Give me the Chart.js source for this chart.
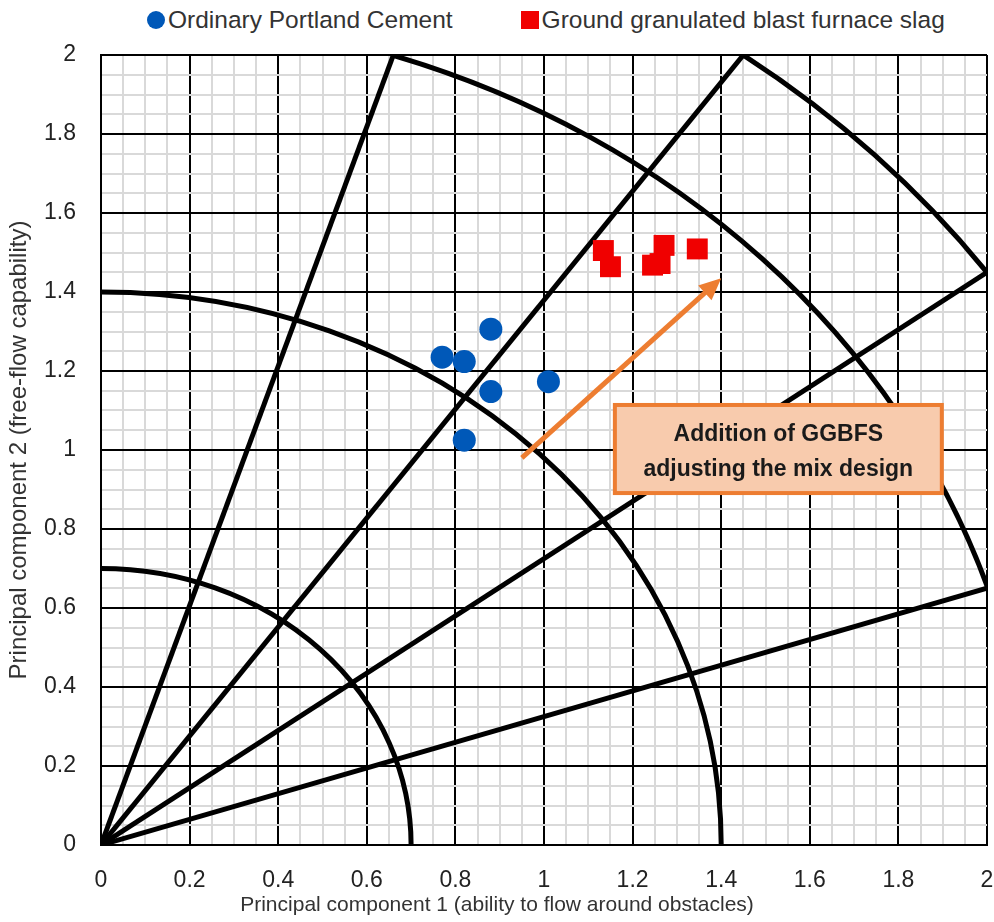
<!DOCTYPE html>
<html>
<head>
<meta charset="utf-8">
<script src="https://cdn.jsdelivr.net/npm/chart.js@4.4.1/dist/chart.umd.min.js"></script>
<style>
  body { margin: 0; background: #fff; font-family: 'Liberation Sans', Arial, sans-serif; overflow: hidden; }
  #legend { position: absolute; left: 147px; top: 5px; height: 30px; display: flex; align-items: center; font-size: 24.5px; color: #333; white-space: nowrap; }
  #legend .item { display: flex; align-items: center; margin-right: 68px; }
  #legend .mark { width: 18px; height: 18px; margin-right: 3px; }
  #wrap { position: absolute; left: 0; top: 40px; width: 994px; height: 882px; }
</style>
</head>
<body>
<div id="legend"></div>
<div id="wrap"><canvas id="pcaChart"></canvas></div>
<script>
const opcX = [0.77, 0.82, 0.88, 0.88, 1.01, 0.82];
const opcY = [1.235, 1.224, 1.306, 1.148, 1.173, 1.025];
const ggbfsX = [1.134, 1.150, 1.245, 1.262, 1.271, 1.346];
const ggbfsY = [1.505, 1.464, 1.468, 1.472, 1.518, 1.509];

// guide rays from the origin
const rayEndX = [0.66, 1.45, 2.0, 2.0];
const rayEndY = [2.0, 2.0, 1.45, 0.65];

// guide arcs around the origin (radius, from/to angle in degrees)
const arcRadius = [0.7, 1.4, 2.105, 2.47];
const arcFrom = [0, 0, 18.0, 35.9];
const arcTo = [90, 90, 71.7, 54.1];

// annotation
const arrowFrom = [0.95, 0.98];
const arrowTo = [1.40, 1.435];
const boxX = [1.16, 1.898];
const boxY = [0.891, 1.114];
const boxText = ['Addition of GGBFS', 'adjusting the mix design'];

const xTitle = 'Principal component 1 (ability to flow around obstacles)';
const yTitle = 'Principal component 2 (free-flow capability)';

const tickStep = 0.05;
const majorStep = 0.2;

function isMajor(v) {
   const r = v / majorStep;
   return Math.abs(r - Math.round(r)) < 1e-6;
}

const toPoints = (xs, ys) => xs.map((x, i) => ({ x: x, y: ys[i] }));

const rays = rayEndX.map((x, i) => ({
   type: 'scatter',
   label: 'ray' + i,
   data: [{ x: 0, y: 0 }, { x: x, y: rayEndY[i] }],
   showLine: true,
   borderColor: '#000',
   borderWidth: 5,
   pointRadius: 0,
   order: 2
}));

const guidePlugin = {
   id: 'guides',
   beforeDatasetsDraw(chart) {
      const { ctx, chartArea, scales: { x, y } } = chart;
      const cx = x.getPixelForValue(0), cy = y.getPixelForValue(0);
      const kx = x.getPixelForValue(1) - cx, ky = cy - y.getPixelForValue(1);
      ctx.save();
      ctx.beginPath();
      ctx.rect(chartArea.left, chartArea.top, chartArea.width, chartArea.height);
      ctx.clip();
      ctx.strokeStyle = '#000';
      ctx.lineWidth = 5;
      arcRadius.forEach((r, i) => {
         ctx.beginPath();
         ctx.ellipse(cx, cy, r * kx, r * ky, 0, -arcTo[i] * Math.PI / 180, -arcFrom[i] * Math.PI / 180, false);
         ctx.stroke();
      });
      ctx.restore();
   },
   afterDatasetsDraw(chart) {
      const { ctx, scales: { x, y } } = chart;
      // arrow
      const x0 = x.getPixelForValue(arrowFrom[0]), y0 = y.getPixelForValue(arrowFrom[1]);
      const x1 = x.getPixelForValue(arrowTo[0]), y1 = y.getPixelForValue(arrowTo[1]);
      const a = Math.atan2(y1 - y0, x1 - x0);
      const headLen = 22, headW = 10;
      ctx.save();
      ctx.strokeStyle = '#ed7d31';
      ctx.fillStyle = '#ed7d31';
      ctx.lineWidth = 5;
      ctx.beginPath();
      ctx.moveTo(x0, y0);
      ctx.lineTo(x1 - Math.cos(a) * headLen * 0.8, y1 - Math.sin(a) * headLen * 0.8);
      ctx.stroke();
      ctx.beginPath();
      ctx.moveTo(x1, y1);
      ctx.lineTo(x1 - Math.cos(a) * headLen + Math.sin(a) * headW, y1 - Math.sin(a) * headLen - Math.cos(a) * headW);
      ctx.lineTo(x1 - Math.cos(a) * headLen - Math.sin(a) * headW, y1 - Math.sin(a) * headLen + Math.cos(a) * headW);
      ctx.closePath();
      ctx.fill();

      // text box
      const bl = x.getPixelForValue(boxX[0]), br = x.getPixelForValue(boxX[1]);
      const bt = y.getPixelForValue(boxY[1]), bb = y.getPixelForValue(boxY[0]);
      ctx.fillStyle = '#f8cbad';
      ctx.fillRect(bl, bt, br - bl, bb - bt);
      ctx.lineWidth = 4;
      ctx.strokeRect(bl, bt, br - bl, bb - bt);
      ctx.fillStyle = '#1a1a1a';
      ctx.font = 'bold 23px "Liberation Sans", Arial, sans-serif';
      ctx.textAlign = 'center';
      ctx.textBaseline = 'middle';
      const mid = (bl + br) / 2, vm = (bt + bb) / 2;
      ctx.fillText(boxText[0], mid, vm - 14);
      ctx.fillText(boxText[1], mid, vm + 21);
      ctx.restore();
   },
   afterDraw(chart) {
      // x axis title is centred on the whole chart, not on the plot area
      const { ctx } = chart;
      ctx.save();
      ctx.fillStyle = '#333';
      ctx.font = '21px "Liberation Sans", Arial, sans-serif';
      ctx.textAlign = 'center';
      ctx.textBaseline = 'middle';
      ctx.fillText(xTitle, chart.width / 2, chart.height - 17);
      ctx.restore();
   }
};

const tickFont = { family: "'Liberation Sans', Arial, sans-serif", size: 23 };

const chart = new Chart(document.getElementById('pcaChart'), {
   type: 'scatter',
   data: {
      datasets: [
         {
            label: 'Ordinary Portland Cement',
            data: toPoints(opcX, opcY),
            pointStyle: 'circle',
            pointRadius: 11.5,
            pointHoverRadius: 11.5,
            backgroundColor: '#0058b8',
            borderWidth: 0,
            order: 0
         },
         {
            label: 'Ground granulated blast furnace slag',
            data: toPoints(ggbfsX, ggbfsY),
            pointStyle: 'rect',
            pointRadius: 14.8,
            pointHoverRadius: 14.8,
            backgroundColor: '#f00000',
            borderWidth: 0,
            order: 1
         },
         ...rays
      ]
   },
   options: {
      responsive: true,
      maintainAspectRatio: false,
      animation: false,
      layout: { autoPadding: false, padding: { left: 0, right: 7, top: 15, bottom: 0 } },
      plugins: {
         legend: { display: false },
         tooltip: { enabled: false }
      },
      scales: {
         x: {
            min: 0, max: 2,
            afterFit(scale) {
               scale.height = 77;
               scale.paddingLeft = 0;
               scale.paddingRight = 0;
            },
            ticks: {
               stepSize: tickStep, autoSkip: false, maxRotation: 0, padding: 22,
               color: '#222', font: tickFont,
               callback: v => isMajor(v) ? String(+v.toFixed(1)) : ''
            },
            grid: {
               drawTicks: false,
               color: c => isMajor(c.tick.value) ? '#000' : '#d9d9d9',
               lineWidth: 2
            },
            border: { color: '#000', width: 2 }
         },
         y: {
            min: 0, max: 2,
            afterFit(scale) {
               scale.width = 101;
               scale.paddingTop = 0;
               scale.paddingBottom = 0;
            },
            ticks: {
               stepSize: tickStep, autoSkip: false, padding: 25,
               color: '#222', font: tickFont,
               callback: v => isMajor(v) ? String(+v.toFixed(1)) : ''
            },
            grid: {
               drawTicks: false,
               color: c => isMajor(c.tick.value) ? '#000' : '#d9d9d9',
               lineWidth: 2
            },
            border: { color: '#000', width: 2 },
            title: {
               display: true,
               text: yTitle,
               color: '#333',
               font: { family: "'Liberation Sans', Arial, sans-serif", size: 24 },
               padding: { top: 5, bottom: 0 }
            }
         }
      }
   },
   plugins: [guidePlugin]
});

// html legend built from the two point datasets
const legend = document.getElementById('legend');
chart.data.datasets.slice(0, 2).forEach(ds => {
   const item = document.createElement('span');
   item.className = 'item';
   const mark = document.createElement('span');
   mark.className = 'mark';
   mark.style.background = ds.backgroundColor;
   if (ds.pointStyle === 'circle') mark.style.borderRadius = '50%';
   item.appendChild(mark);
   item.appendChild(document.createTextNode(ds.label));
   legend.appendChild(item);
});
</script>
</body>
</html>
